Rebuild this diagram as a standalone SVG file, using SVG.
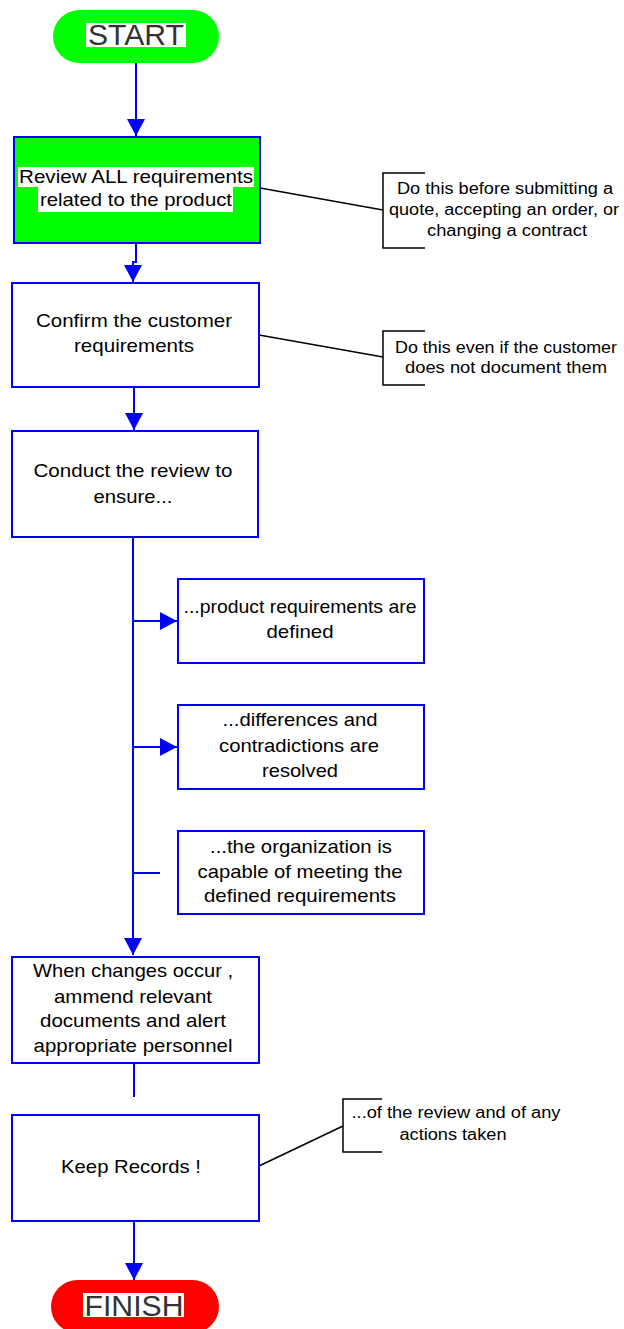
<svg xmlns="http://www.w3.org/2000/svg" width="624" height="1329" viewBox="0 0 624 1329">
  <style>
    .box { fill: #ffffff; stroke: #0000ff; stroke-width: 2; }
    .flow { stroke: #0000ff; stroke-width: 2; fill: none; }
    .note { stroke: #000000; stroke-width: 1.5; fill: none; }
    .t { font-family: "Liberation Sans", Arial, sans-serif; font-size: 19px; fill: #000000; text-anchor: middle; }
    .n { font-family: "Liberation Sans", Arial, sans-serif; font-size: 16px; fill: #000000; text-anchor: middle; }
    .term { font-family: "Liberation Sans", Arial, sans-serif; font-size: 29px; fill: #333333; text-anchor: middle; }
  </style>
  <defs>
    <marker id="arrow" markerUnits="userSpaceOnUse" markerWidth="18" markerHeight="18" viewBox="0 0 18 18" refX="17" refY="9" orient="auto">
      <path d="M0,0 L17,9 L0,18 Z" fill="#0000ff"/>
    </marker>
  </defs>

  <rect width="624" height="1329" fill="#ffffff"/>

  <!-- connectors -->
  <g id="connectors">
    <line class="flow" x1="136" y1="63" x2="136" y2="136" marker-end="url(#arrow)"/>
    <polyline class="flow" points="136,243 136,262 133,262 133,282" marker-end="url(#arrow)"/>
    <line class="flow" x1="134" y1="387" x2="134" y2="430" marker-end="url(#arrow)"/>
    <line class="flow" x1="133" y1="537" x2="133" y2="955" marker-end="url(#arrow)"/>
    <line class="flow" x1="133" y1="621" x2="177" y2="621" marker-end="url(#arrow)"/>
    <line class="flow" x1="133" y1="747" x2="177" y2="747" marker-end="url(#arrow)"/>
    <line class="flow" x1="133" y1="873" x2="160" y2="873"/>
    <line class="flow" x1="134" y1="1063" x2="134" y2="1097"/>
    <line class="flow" x1="134" y1="1221" x2="134" y2="1280" marker-end="url(#arrow)"/>
    <!-- annotation leaders -->
    <line class="note" x1="260" y1="188" x2="383" y2="210"/>
    <line class="note" x1="259" y1="335" x2="383" y2="357"/>
    <line class="note" x1="259" y1="1166" x2="343" y2="1126"/>
  </g>

  <!-- start terminal -->
  <g id="start">
    <rect x="53" y="10" width="166" height="53" rx="26.5" fill="#00ff00"/>
    <rect x="86" y="23" width="100" height="24" fill="#ffffff"/>
    <text class="term" x="136" y="45" textLength="96" lengthAdjust="spacingAndGlyphs">START</text>
  </g>

  <!-- review all requirements -->
  <g id="review-all">
    <rect x="14" y="137" width="246" height="106" fill="#00ff00" stroke="#0000ff" stroke-width="2"/>
    <rect x="18" y="167" width="236" height="20" fill="#ffffff"/>
    <rect x="38" y="187" width="195" height="25" fill="#ffffff"/>
    <text class="t" x="136" y="183" textLength="234" lengthAdjust="spacingAndGlyphs">Review ALL requirements</text>
    <text class="t" x="136" y="206" textLength="192" lengthAdjust="spacingAndGlyphs">related to the product</text>
  </g>

  <g id="note-before">
    <polyline class="note" points="425,173 383,173 383,248 425,248"/>
    <text class="n" x="505" y="194" textLength="216" lengthAdjust="spacingAndGlyphs">Do this before submitting a</text>
    <text class="n" x="504" y="215" textLength="230" lengthAdjust="spacingAndGlyphs">quote, accepting an order, or</text>
    <text class="n" x="507" y="236" textLength="160" lengthAdjust="spacingAndGlyphs">changing a contract</text>
  </g>

  <!-- confirm requirements -->
  <g id="confirm">
    <rect class="box" x="12" y="283" width="247" height="104"/>
    <text class="t" x="134" y="327" textLength="196" lengthAdjust="spacingAndGlyphs">Confirm the customer</text>
    <text class="t" x="134" y="352" textLength="120" lengthAdjust="spacingAndGlyphs">requirements</text>
  </g>

  <g id="note-even">
    <polyline class="note" points="425,331 383,331 383,385 425,385"/>
    <text class="n" x="506" y="353" textLength="222" lengthAdjust="spacingAndGlyphs">Do this even if the customer</text>
    <text class="n" x="506" y="373" textLength="202" lengthAdjust="spacingAndGlyphs">does not document them</text>
  </g>

  <!-- conduct the review -->
  <g id="conduct">
    <rect class="box" x="12" y="431" width="246" height="106"/>
    <text class="t" x="133" y="477" textLength="199" lengthAdjust="spacingAndGlyphs">Conduct the review to</text>
    <text class="t" x="133" y="503" textLength="79" lengthAdjust="spacingAndGlyphs">ensure...</text>
  </g>

  <g id="defined">
    <rect class="box" x="178" y="579" width="246" height="84"/>
    <text class="t" x="300" y="613" textLength="233" lengthAdjust="spacingAndGlyphs">...product requirements are</text>
    <text class="t" x="300" y="638" textLength="67" lengthAdjust="spacingAndGlyphs">defined</text>
  </g>

  <g id="resolved">
    <rect class="box" x="178" y="705" width="246" height="84"/>
    <text class="t" x="300" y="726" textLength="155" lengthAdjust="spacingAndGlyphs">...differences and</text>
    <text class="t" x="299" y="752" textLength="160" lengthAdjust="spacingAndGlyphs">contradictions are</text>
    <text class="t" x="300" y="777" textLength="76" lengthAdjust="spacingAndGlyphs">resolved</text>
  </g>

  <g id="capable">
    <rect class="box" x="178" y="831" width="246" height="83"/>
    <text class="t" x="301" y="853" textLength="182" lengthAdjust="spacingAndGlyphs">...the organization is</text>
    <text class="t" x="300" y="878" textLength="205" lengthAdjust="spacingAndGlyphs">capable of meeting the</text>
    <text class="t" x="300" y="902" textLength="192" lengthAdjust="spacingAndGlyphs">defined requirements</text>
  </g>

  <!-- changes -->
  <g id="changes">
    <rect class="box" x="12" y="957" width="247" height="106"/>
    <text class="t" x="133" y="977" textLength="200" lengthAdjust="spacingAndGlyphs">When changes occur ,</text>
    <text class="t" x="133" y="1003" textLength="158" lengthAdjust="spacingAndGlyphs">ammend relevant</text>
    <text class="t" x="133" y="1027" textLength="186" lengthAdjust="spacingAndGlyphs">documents and alert</text>
    <text class="t" x="133" y="1052" textLength="199" lengthAdjust="spacingAndGlyphs">appropriate personnel</text>
  </g>

  <!-- keep records -->
  <g id="records">
    <rect class="box" x="12" y="1115" width="247" height="106"/>
    <text class="t" x="131" y="1173" textLength="140" lengthAdjust="spacingAndGlyphs">Keep Records !</text>
  </g>

  <g id="note-records">
    <polyline class="note" points="382,1099 343,1099 343,1152 382,1152"/>
    <text class="n" x="456" y="1118" textLength="209" lengthAdjust="spacingAndGlyphs">...of the review and of any</text>
    <text class="n" x="453" y="1140" textLength="107" lengthAdjust="spacingAndGlyphs">actions taken</text>
  </g>

  <!-- finish terminal -->
  <g id="finish">
    <rect x="51" y="1280" width="168" height="53" rx="26.5" fill="#ff0000"/>
    <rect x="83" y="1293" width="101" height="24" fill="#ffffff"/>
    <text class="term" x="134" y="1316" textLength="99" lengthAdjust="spacingAndGlyphs">FINISH</text>
  </g>
</svg>
